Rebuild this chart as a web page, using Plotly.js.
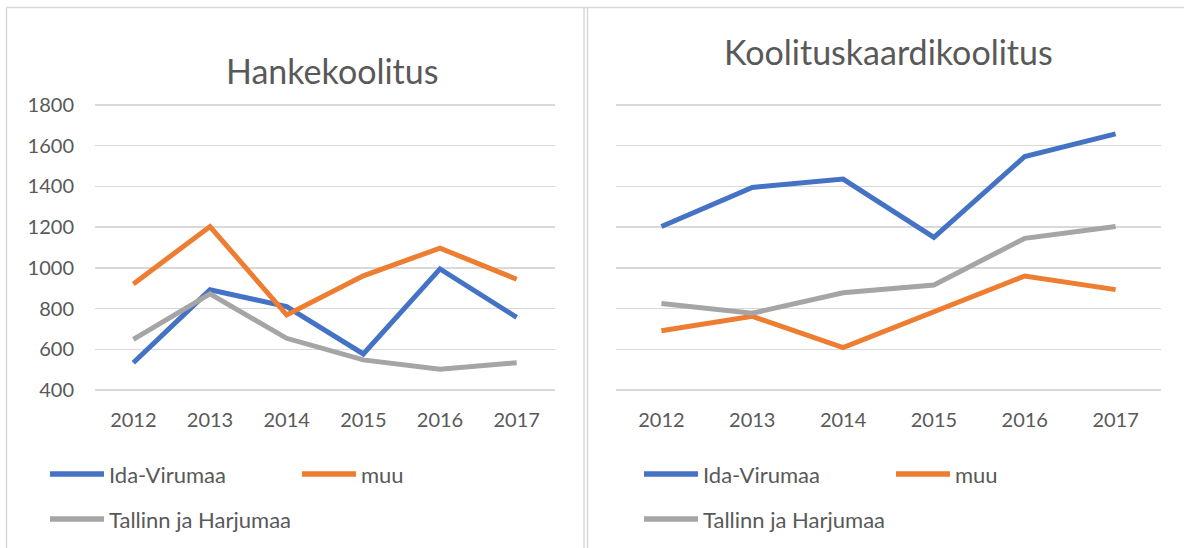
<!DOCTYPE html>
<html>
<head>
<meta charset="utf-8">
<script src="https://cdn.plot.ly/plotly-3.0.1.min.js"></script>
<style>
  html, body { margin: 0; padding: 0; background: #ffffff; }
  #chart { width: 1184px; height: 548px; }
</style>
</head>
<body>
<div id="chart"></div>
<script>
// ---- data ----
var years = ['2012', '2013', '2014', '2015', '2016', '2017'];
var seriesNames = ['Ida-Virumaa', 'muu', 'Tallinn ja Harjumaa'];
var titleLeft = 'Hankekoolitus';
var titleRight = 'Koolituskaardikoolitus';

var hankeIdaVirumaa = [534, 892, 810, 577, 995, 757];
var hankeMuu = [921, 1203, 769, 961, 1097, 944];
var hankeTallinn = [649, 872, 654, 548, 502, 534];

var kaartIdaVirumaa = [1203, 1395, 1436, 1150, 1547, 1658];
var kaartMuu = [691, 762, 608, 787, 960, 893];
var kaartTallinn = [825, 777, 878, 916, 1145, 1203];

var yTicks = [400, 600, 800, 1000, 1200, 1400, 1600, 1800];

// ---- styling ----
var W = 1184, H = 548;
var colors = ['#4472C4', '#ED7D31', '#A5A5A5'];
var textColor = '#595959';
var gridColor = '#D9D9D9';
var fontFam = 'Lato, "Open Sans", sans-serif';

function px(x) { return x / W; }
function py(y) { return 1 - y / H; }

var leftSeries = [hankeIdaVirumaa, hankeMuu, hankeTallinn];
var rightSeries = [kaartIdaVirumaa, kaartMuu, kaartTallinn];

var traces = [];
leftSeries.forEach(function (vals, i) {
  traces.push({
    x: years, y: vals, type: 'scatter', mode: 'lines', name: seriesNames[i],
    xaxis: 'x', yaxis: 'y', showlegend: false,
    line: { color: colors[i], width: 5 }
  });
});
rightSeries.forEach(function (vals, i) {
  traces.push({
    x: years, y: vals, type: 'scatter', mode: 'lines', name: seriesNames[i],
    xaxis: 'x2', yaxis: 'y2', showlegend: false,
    line: { color: colors[i], width: 5 }
  });
});

var yDomain = [py(392.04), py(102.96)];
var yRange = [390, 1810];

function xAxis(domain, anchor) {
  return {
    domain: domain, anchor: anchor, type: 'category',
    range: [-0.5, years.length - 0.5],
    showgrid: false, showline: false, zeroline: false, ticks: '',
    tickfont: { family: fontFam, size: 20, color: textColor },
    ticklabelstandoff: 14, fixedrange: true
  };
}
function yAxis(domain, anchor, showLabels) {
  return {
    domain: domain, anchor: anchor, range: yRange,
    tickmode: 'array', tickvals: yTicks, ticktext: yTicks.map(String),
    showticklabels: showLabels,
    showgrid: true, gridcolor: gridColor, gridwidth: 1.5,
    zeroline: false, showline: false, ticks: '',
    tickfont: { family: fontFam, size: 20, color: textColor },
    ticklabelstandoff: 20, fixedrange: true
  };
}

var shapes = [];
var annotations = [];

// panel frames
function vline(x, y0, y1) {
  shapes.push({ type: 'line', xref: 'paper', yref: 'paper', x0: px(x), x1: px(x), y0: py(y0), y1: py(y1),
    line: { color: gridColor, width: 1.5 } });
}
shapes.push({ type: 'line', xref: 'paper', yref: 'paper', x0: px(6.5), x1: 1, y0: py(7.5), y1: py(7.5),
  line: { color: gridColor, width: 1.5 } });
vline(6.5, 7.5, 548);
vline(584, 7.5, 548);
vline(587.5, 7.5, 548);

// titles
annotations.push({ text: titleLeft, xref: 'paper', yref: 'paper', x: px(332), y: py(70),
  xanchor: 'center', yanchor: 'middle', showarrow: false,
  font: { family: fontFam, size: 34, color: textColor } });
annotations.push({ text: titleRight, xref: 'paper', yref: 'paper', x: px(888), y: py(51),
  xanchor: 'center', yanchor: 'middle', showarrow: false,
  font: { family: fontFam, size: 34, color: textColor } });

// legends
function legendItem(x0, y, color, label) {
  shapes.push({ type: 'line', xref: 'paper', yref: 'paper', x0: px(x0), x1: px(x0 + 54), y0: py(y), y1: py(y),
    line: { color: color, width: 5.5 } });
  annotations.push({ text: label, xref: 'paper', yref: 'paper', x: px(x0 + 57), y: py(y),
    xanchor: 'left', yanchor: 'middle', showarrow: false,
    font: { family: fontFam, size: 22, color: textColor } });
}
legendItem(50, 474, colors[0], seriesNames[0]);
legendItem(302, 474, colors[1], seriesNames[1]);
legendItem(50, 519, colors[2], seriesNames[2]);
legendItem(644, 474, colors[0], seriesNames[0]);
legendItem(896, 474, colors[1], seriesNames[1]);
legendItem(644, 519, colors[2], seriesNames[2]);

var layout = {
  width: W, height: H,
  margin: { l: 0, r: 0, t: 0, b: 0 },
  paper_bgcolor: '#ffffff', plot_bgcolor: '#ffffff',
  showlegend: false,
  xaxis: xAxis([px(95), px(555)], 'y'),
  yaxis: yAxis(yDomain, 'x', true),
  xaxis2: xAxis([px(616), px(1161)], 'y2'),
  yaxis2: yAxis(yDomain, 'x2', false),
  shapes: shapes,
  annotations: annotations,
  font: { family: fontFam, color: textColor }
};

Plotly.newPlot('chart', traces, layout, { displayModeBar: false, staticPlot: true });
</script>
</body>
</html>
